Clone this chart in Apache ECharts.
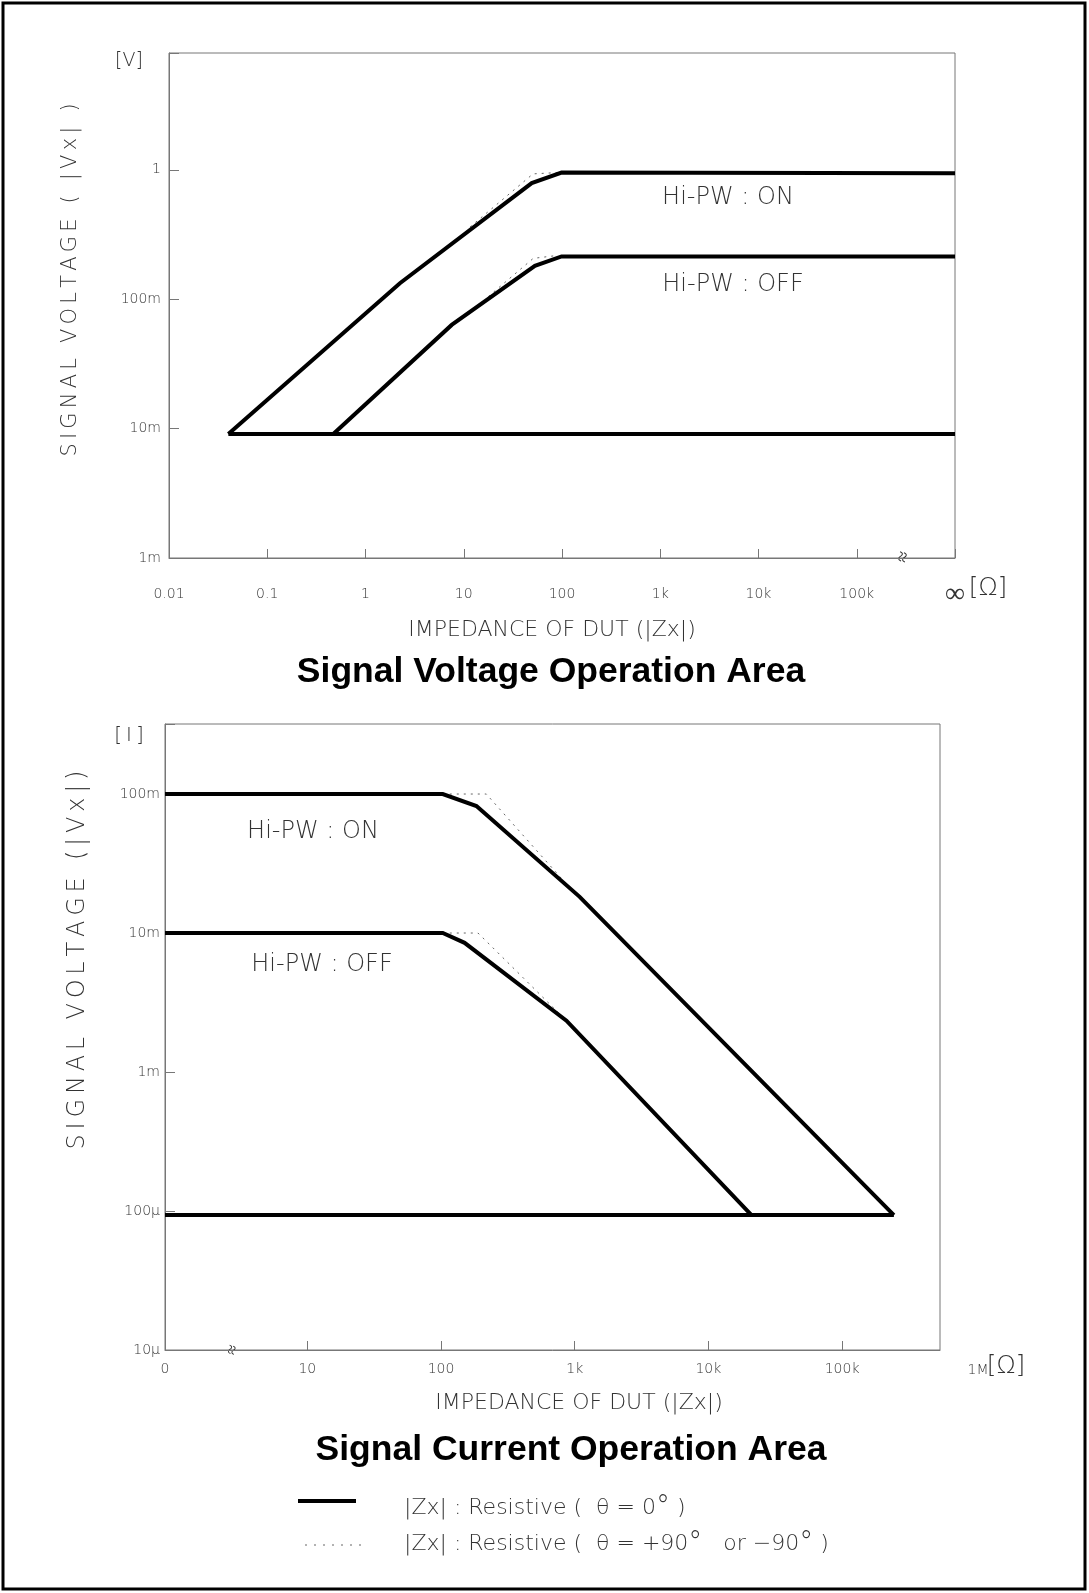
<!DOCTYPE html>
<html>
<head>
<meta charset="utf-8">
<script src="https://cdn.jsdelivr.net/npm/echarts@6/dist/echarts.min.js"></script>
<style>
html,body{margin:0;padding:0;background:#fff;}
#c{width:1089px;height:1593px;}
</style>
</head>
<body>
<div id="c"></div>
<script>
// ---------- DATA ----------
// Top chart: Signal Voltage Operation Area (x: |Zx| in ohm, y: |Vx| in V)
const TOP_X_TICKS = [0.01, 0.1, 1, 10, 100, 1e3, 1e4, 1e5, 1e6];
const TOP_X_LABELS = ['0.01', '0.1', '1', '10', '100', '1k', '10k', '100k', '{inf|∞}'];
const TOP_Y_TICKS = [1e-3, 1e-2, 1e-1, 1];
const TOP_Y_LABELS = ['1m', '10m', '100m', '1'];
const TOP_X_RANGE = [0.01, 1e6];
const TOP_Y_RANGE = [1e-3, 8];

const TOP_ON_SOLID = [[0.0402, 0.0091], [2.24, 0.133], [49.2, 0.79], [99, 0.953], [1e6, 0.94]];
const TOP_OFF_SOLID = [[0.47, 0.0091], [7.54, 0.0633], [53, 0.181], [99, 0.214], [1e6, 0.214]];
const TOP_FLOOR = [[0.0402, 0.0091], [1e6, 0.0091]];
const TOP_ON_DOT = [[11.6, 0.362], [50.7, 0.931], [89, 0.952]];
const TOP_OFF_DOT = [[17.8, 0.105], [51, 0.207], [81.5, 0.216]];

// Bottom chart: Signal Current Operation Area (x: |Zx| in ohm, y: current in A)
const BOT_X_MIN = 0.861;          // left edge, labelled "0"
const BOT_X_MAX = 5.4e5;
const BOT_X_TICKS = [BOT_X_MIN, 10, 100, 1e3, 1e4, 1e5];
const BOT_X_LABELS = ['0', '10', '100', '1k', '10k', '100k'];
const BOT_Y_TICKS = [1e-5, 1e-4, 1e-3, 1e-2, 1e-1];
const BOT_Y_LABELS = ['10μ', '100μ', '1m', '10m', '100m'];
const BOT_Y_RANGE = [1e-5, 0.319];

const BOT_ON_SOLID = [[BOT_X_MIN, 0.1], [103, 0.1], [184, 0.082], [1089, 0.0182], [244000, 0.0000935]];
const BOT_OFF_SOLID = [[BOT_X_MIN, 0.01], [103, 0.01], [150, 0.0085], [867, 0.00234], [21000, 0.0000935]];
const BOT_FLOOR = [[BOT_X_MIN, 0.0000935], [244000, 0.0000935]];
const BOT_ON_DOT = [[103, 0.1], [218, 0.1], [1000, 0.0193]];
const BOT_OFF_DOT = [[103, 0.01], [189, 0.01], [867, 0.00234]];

// ---------- CHART ----------
const THIN = 'DejaVu Sans';
const TW = 200;
const GRAY = '#333';
const AX = '#777';

function fmt(ticks, labels) {
  return function (v) {
    for (let i = 0; i < ticks.length; i++) {
      if (Math.abs(Math.log10(v) - Math.log10(ticks[i])) < 0.005) return labels[i];
    }
    return '';
  };
}
function spaced(s) { return s.split('').join('\u2009'); }

const labelBase = { fontFamily: THIN, fontWeight: TW, color: GRAY, fontSize: 14 };

function solid(data, xi) {
  return { type: 'line', xAxisIndex: xi, yAxisIndex: xi, data: data, symbol: 'none', silent: true,
    lineStyle: { color: '#000', width: 4, cap: 'butt', join: 'miter' }, z: 3 };
}
function dotted(data, xi) {
  return { type: 'line', xAxisIndex: xi, yAxisIndex: xi, data: data, symbol: 'none', silent: true,
    lineStyle: { color: '#666', width: 1, type: [2, 5] }, z: 2 };
}

function txt(x, y, s, size, opts) {
  opts = opts || {};
  return { type: 'text', x: x, y: y, rotation: opts.rot || 0, silent: true,
    style: { text: s, fontFamily: opts.bold ? 'Liberation Sans' : THIN,
      fontWeight: opts.bold ? 'bold' : TW, fontSize: size, fill: opts.color || (opts.bold ? '#000' : GRAY),
      align: opts.align || 'center', verticalAlign: 'middle', rich: opts.rich } };
}
const degRich = { d: { fontFamily: THIN, fontWeight: TW, fontSize: 28, fill: GRAY } };

const chart = echarts.init(document.getElementById('c'), null, { renderer: 'canvas' });
chart.setOption({
  animation: false,
  backgroundColor: '#fff',
  grid: [
    { left: 169, top: 53, width: 786, height: 505, show: true, borderColor: AX, borderWidth: 1 },
    { left: 165, top: 724, width: 775, height: 626, show: true, borderColor: AX, borderWidth: 1 }
  ],
  xAxis: [
    { gridIndex: 0, type: 'log', logBase: 10, min: TOP_X_RANGE[0], max: TOP_X_RANGE[1], splitNumber: 5,
      axisLine: { lineStyle: { color: AX } },
      axisTick: { inside: true, length: 9, lineStyle: { color: AX } },
      splitLine: { show: false },
      axisLabel: Object.assign({}, labelBase, { margin: 29, formatter: fmt(TOP_X_TICKS, TOP_X_LABELS),
        rich: { inf: { fontFamily: THIN, fontWeight: TW, color: GRAY, fontSize: 28, lineHeight: 16 } } }) },
    { gridIndex: 1, type: 'log', logBase: 10, min: BOT_X_MIN, max: BOT_X_MAX, splitNumber: 5,
      axisLine: { lineStyle: { color: AX } },
      axisTick: { inside: true, length: 9, lineStyle: { color: AX }, customValues: BOT_X_TICKS.slice(1) },
      splitLine: { show: false },
      axisLabel: Object.assign({}, labelBase, { margin: 12, formatter: fmt(BOT_X_TICKS, BOT_X_LABELS),
        customValues: BOT_X_TICKS }) }
  ],
  yAxis: [
    { gridIndex: 0, type: 'log', logBase: 10, min: TOP_Y_RANGE[0], max: TOP_Y_RANGE[1], splitNumber: 5,
      axisLine: { lineStyle: { color: AX } },
      axisTick: { inside: true, length: 10, lineStyle: { color: AX } },
      splitLine: { show: false },
      axisLabel: Object.assign({}, labelBase, { margin: 8, formatter: fmt(TOP_Y_TICKS, TOP_Y_LABELS) }) },
    { gridIndex: 1, type: 'log', logBase: 10, min: BOT_Y_RANGE[0], max: BOT_Y_RANGE[1], splitNumber: 5,
      axisLine: { lineStyle: { color: AX } },
      axisTick: { inside: true, length: 10, lineStyle: { color: AX } },
      splitLine: { show: false },
      axisLabel: Object.assign({}, labelBase, { margin: 5, formatter: fmt(BOT_Y_TICKS, BOT_Y_LABELS) }) }
  ],
  series: [
    solid(TOP_FLOOR, 0), solid(TOP_ON_SOLID, 0), solid(TOP_OFF_SOLID, 0),
    dotted(TOP_ON_DOT, 0), dotted(TOP_OFF_DOT, 0),
    solid(BOT_FLOOR, 1), solid(BOT_ON_SOLID, 1), solid(BOT_OFF_SOLID, 1),
    dotted(BOT_ON_DOT, 1), dotted(BOT_OFF_DOT, 1)
  ],
  graphic: [
    { type: 'rect', silent: true, shape: { x: 3, y: 3, width: 1082, height: 1586 },
      style: { fill: 'none', stroke: '#000', lineWidth: 3 } },
    // top chart annotations
    txt(129, 61, '[V]', 19),
    txt(71, 280, spaced('SIGNAL VOLTAGE ( |Vx| )'), 21, { rot: Math.PI / 2 }),
    txt(988, 588, '[Ω]', 25),
    txt(904, 557, '≈', 20, { rot: Math.PI / 2.4 }),
    txt(552, 630, 'IMPEDANCE OF DUT (|Zx|)', 22),
    txt(551, 672, 'Signal Voltage Operation Area', 35.5, { bold: true }),
    txt(728, 198, 'Hi-PW : ON', 24),
    txt(733, 285, 'Hi-PW : OFF', 24),
    // bottom chart annotations
    txt(129, 736, '[\u2009I\u2009]', 20),
    txt(78, 960, spaced('SIGNAL VOLTAGE (|Vx|)'), 24, { rot: Math.PI / 2 }),
    txt(978, 1370, '1M', 14),
    txt(1006, 1366, '[Ω]', 25),
    txt(233, 1350, '≈', 18, { rot: Math.PI / 2.4 }),
    txt(579, 1403, 'IMPEDANCE OF DUT (|Zx|)', 22),
    txt(571, 1450, 'Signal Current Operation Area', 35.5, { bold: true }),
    txt(313, 832, 'Hi-PW : ON', 24),
    txt(322, 965, 'Hi-PW : OFF', 24),
    // legend
    { type: 'line', silent: true, shape: { x1: 298, y1: 1501, x2: 356, y2: 1501 },
      style: { stroke: '#000', lineWidth: 4 } },
    { type: 'line', silent: true, shape: { x1: 305, y1: 1545, x2: 361, y2: 1545 },
      style: { stroke: '#666', lineWidth: 1, lineDash: [2, 7] } },
    txt(404, 1508, '|Zx| : Resistive (  θ = 0{d|°} )', 22, { align: 'left', rich: degRich }),
    txt(404, 1544, '|Zx| : Resistive (  θ = +90{d|°}   or −90{d|°} )', 22, { align: 'left', rich: degRich })
  ]
});
</script>
</body>
</html>
